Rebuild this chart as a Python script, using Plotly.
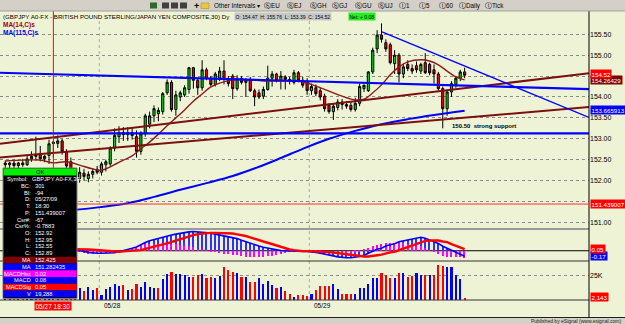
import plotly.graph_objects as go

# ---------------- data (30-min bars, bar 0 = 05/27 13:00) ----------------
bar_idx = list(range(106))
opens = [152.42,152.38,152.42,152.36,152.42,152.38,152.52,152.58,152.65,152.52,
         152.60,152.92,152.89,152.95,152.70,152.45,152.22,152.05,152.18,152.05,
         152.15,152.27,152.20,152.38,152.40,152.78,153.05,153.15,153.10,153.15,
         153.05,152.70,153.12,153.35,153.55,153.60,153.65,154.10,154.35,153.70,
         154.00,154.05,154.18,154.70,154.40,154.22,154.65,154.45,154.30,154.45,
         154.62,154.42,154.50,154.20,154.45,154.35,154.42,154.15,154.10,154.02,
         154.18,154.45,154.55,154.40,154.48,154.42,154.35,154.58,154.40,154.38,
         154.15,154.22,154.15,154.02,153.80,153.65,153.75,153.88,153.82,153.80,
         153.70,153.85,154.20,154.15,154.60,155.15,155.48,155.30,155.25,154.80,
         155.00,154.55,154.78,154.68,154.75,154.62,154.82,154.78,154.65,154.55,
         154.20,153.72,154.12,154.30,154.45,154.60]
highs = [152.48,152.45,152.50,152.45,152.52,152.60,152.70,153.05,152.83,152.62,
         152.98,152.95,153.08,153.00,152.75,152.55,152.30,152.32,152.28,152.22,
         152.30,152.35,152.45,152.50,152.82,153.25,153.30,153.28,153.28,153.25,
         153.20,153.18,153.60,153.65,153.80,153.75,154.12,154.42,154.40,154.15,
         154.15,154.28,154.72,154.72,154.45,154.88,154.70,154.50,154.60,154.72,
         154.88,154.50,154.55,154.52,154.50,154.45,154.48,154.20,154.18,154.25,
         154.75,154.62,154.58,154.62,154.52,154.48,154.65,154.62,154.48,154.45,
         154.32,154.30,154.22,154.08,153.85,153.85,153.95,153.95,153.90,153.88,
         153.98,154.32,154.30,154.62,155.18,155.60,155.76,155.38,155.30,155.12,
         155.05,154.80,154.88,154.78,154.85,154.82,155.05,154.82,154.78,154.60,
         154.25,154.18,154.38,154.50,154.65,154.70]
lows = [152.30,152.30,152.30,152.28,152.33,152.35,152.45,152.48,152.46,152.44,
        152.40,152.55,152.78,152.62,152.30,152.15,151.98,151.95,152.00,151.96,
        152.05,152.15,152.12,152.22,152.35,152.70,152.90,152.95,152.95,152.98,
        152.55,152.62,153.05,153.25,153.40,153.42,153.58,154.05,153.65,153.55,
        153.90,154.00,154.08,154.20,154.05,154.15,154.40,154.25,154.25,154.38,
        154.30,154.25,153.95,154.15,154.30,154.00,154.12,153.78,153.95,153.95,
        154.15,154.25,154.35,154.18,154.18,154.30,154.30,154.35,154.22,154.05,
        154.05,154.02,153.92,153.65,153.60,153.45,153.68,153.70,153.72,153.65,
        153.65,153.78,154.12,154.12,154.55,155.05,155.30,155.08,154.78,154.55,
        154.35,154.45,154.62,154.55,154.58,154.55,154.55,154.52,154.32,154.15,
        153.25,153.55,154.00,154.22,154.38,154.45]
closes = [152.38,152.42,152.36,152.42,152.38,152.52,152.58,152.62,152.52,152.58,
          152.88,152.89,152.95,152.70,152.35,152.22,152.05,152.20,152.10,152.15,
          152.22,152.20,152.40,152.45,152.78,153.08,153.15,153.10,153.15,153.08,
          152.70,153.12,153.55,153.55,153.72,153.68,154.08,154.35,153.70,154.05,
          154.10,154.22,154.70,154.40,154.22,154.65,154.45,154.30,154.55,154.62,
          154.42,154.32,154.20,154.45,154.35,154.40,154.15,154.00,154.00,154.18,
          154.45,154.55,154.40,154.50,154.42,154.38,154.58,154.40,154.28,154.15,
          154.25,154.08,154.00,153.72,153.65,153.78,153.88,153.82,153.78,153.70,
          153.85,154.25,154.28,154.60,155.12,155.48,155.38,155.15,154.82,155.00,
          154.55,154.72,154.68,154.62,154.65,154.78,154.58,154.58,154.55,154.20,
          153.72,154.12,154.32,154.45,154.60,154.52]
volume_k = [14,12,10,11,13,15,16,22,18,14,
            20,19.288,17,15,22,20,16,12,9,14,
            10,13,5,11,14,17,15,16,10,11,
            17,14,19,14,13,12.5,22,27,29,27,
            27,26,24,24,26,27,23,24,23,25,
            34,31,29,28,24,24,19,19,23,17,
            20,16,13,14,9,6,3.5,5,5,4,
            6,10,15,15,15,17,11,6,6,6,
            6,13,12,17,23,23,28,26,23,23,
            28,28,24,25,28,26,26,26,26,36,
            35,34,34,26,22,2.143]
macd = [0.15,0.14,0.13,0.12,0.11,0.10,0.10,0.10,0.09,0.09,
        0.09,0.08,0.09,0.08,0.08,0.06,0.04,0.02,-0.02,-0.05,
        -0.07,-0.08,-0.08,-0.08,-0.08,-0.06,-0.03,0.00,0.03,0.08,
        0.12,0.20,0.26,0.31,0.35,0.39,0.43,0.46,0.49,0.52,
        0.55,0.57,0.59,0.60,0.59,0.58,0.57,0.55,0.52,0.49,
        0.47,0.45,0.42,0.38,0.33,0.28,0.24,0.19,0.15,0.11,
        0.08,0.05,0.03,0.01,0.00,-0.01,-0.02,-0.02,-0.02,-0.02,
        -0.03,-0.05,-0.08,-0.10,-0.13,-0.16,-0.19,-0.21,-0.22,-0.22,
        -0.21,-0.18,-0.14,-0.08,-0.02,0.05,0.08,0.15,0.19,0.22,
        0.28,0.31,0.34,0.38,0.41,0.42,0.39,0.34,0.28,0.23,
        0.14,0.08,0.00,-0.05,-0.11,-0.17]
macd_sig = [0.12,0.12,0.12,0.11,0.11,0.10,0.09,0.08,0.07,0.06,
            0.06,0.05,0.05,0.06,0.06,0.06,0.06,0.06,0.05,0.04,
            0.03,0.02,0.00,-0.01,-0.02,-0.03,-0.03,-0.02,-0.01,0.00,
            0.01,0.02,0.06,0.10,0.13,0.17,0.20,0.23,0.28,0.32,
            0.36,0.40,0.45,0.49,0.52,0.54,0.56,0.56,0.56,0.56,
            0.56,0.55,0.54,0.51,0.49,0.46,0.42,0.37,0.33,0.29,
            0.25,0.21,0.16,0.11,0.07,0.04,0.02,0.00,-0.01,-0.01,
            -0.01,-0.02,-0.02,-0.03,-0.04,-0.05,-0.07,-0.09,-0.11,-0.13,
            -0.15,-0.17,-0.18,-0.18,-0.17,-0.14,-0.12,-0.08,-0.05,-0.03,
            0.02,0.07,0.12,0.17,0.23,0.28,0.31,0.32,0.33,0.32,
            0.29,0.27,0.21,0.16,0.10,0.05]
macd_hist = [0.03,0.02,0.01,0.01,0.00,0.00,0.01,0.02,0.02,0.03,
             0.03,0.02,0.04,0.02,0.02,0.00,-0.02,-0.04,-0.07,-0.09,
             -0.10,-0.10,-0.08,-0.07,-0.06,-0.03,0.00,0.02,0.04,0.08,
             0.11,0.18,0.20,0.21,0.22,0.22,0.23,0.23,0.21,0.20,
             0.19,0.17,0.14,0.11,0.07,0.04,0.01,-0.01,-0.04,-0.07,
             -0.09,-0.10,-0.12,-0.13,-0.16,-0.18,-0.18,-0.18,-0.18,-0.18,
             -0.17,-0.16,-0.13,-0.10,-0.07,-0.05,-0.04,-0.02,-0.01,-0.01,
             -0.02,-0.03,-0.06,-0.07,-0.09,-0.11,-0.12,-0.12,-0.11,-0.09,
             -0.06,-0.01,0.04,0.10,0.15,0.19,0.20,0.23,0.24,0.25,
             0.26,0.24,0.22,0.21,0.18,0.14,0.08,0.02,-0.05,-0.09,
             -0.15,-0.19,-0.21,-0.21,-0.21,-0.22]
ma14_bars = [0,4,8,11,14,17,20,22,24,27,29,31,33,35,37,39,41,43,45,47,49,52,56,60,
             64,68,71,74,77,80,82,84,86,88,90,92,95,97,99,101,103,105]
ma14_vals = [152.47,152.49,152.49,152.425,152.45,152.37,152.28,152.25,152.33,152.49,
             152.59,152.76,152.92,153.11,153.31,153.50,153.69,153.90,154.07,154.24,
             154.33,154.41,154.41,154.38,154.38,154.36,154.26,154.14,154.02,153.93,
             153.95,154.10,154.29,154.53,154.72,154.84,154.89,154.86,154.77,154.62,
             154.48,154.41]
ma115_bars = [0,11,16,22,28,34,40,46,52,58,63,68,74,80,86,92,98,105]
ma115_vals = [151.24,151.28,151.30,151.37,151.46,151.61,151.78,151.94,152.11,152.33,
              152.54,152.76,153.00,153.19,153.35,153.47,153.57,153.67]
# drawn trendlines: (bar start, price start, bar end, price end)
trend_brown = [(-1.2, 152.88, 133.43, 154.57), (-1.2, 152.55, 133.43, 153.76)]
trend_blue = [(-1.2, 154.58, 133.43, 154.19), (-1.2, 153.13, 133.43, 153.13),
              (86.12, 155.56, 133.43, 153.51)]
price_ticks = [151.0, 151.5, 152.0, 152.5, 153.0, 153.5, 154.0, 154.5, 155.0, 155.5]
hidden_ticks = [151.5, 154.5]
day_labels = [(22, "05/28"), (70, "05/29")]
cursor_bar, cursor_price = 11, 151.439007
info_rows = [("Symbol:", "GBPJPY A0-FX,30"), ("BC:", "301"), ("BI:", "-94"),
             ("D:", "05/27/09"), ("T:", "18:30"), ("P:", "151.439007"),
             ("Csr#:", "-67"), ("Csr%:", "-0.7883"), ("O:", "152.92"), ("H:", "152.95"),
             ("L:", "152.55"), ("C:", "152.89"), ("MA", "152.425"), ("MA", "151.282435"),
             ("MACDHist", "0.02"), ("MACD", "0.08"), ("MACDSig", "0.05"), ("V", "19,288")]
header_ohlc = ("154.47", "155.76", "153.39", "154.52")
header_net = "+ 0.08"
last_close, last_ma14, last_ma115 = 154.52, 154.26429, 153.665913
last_macd, last_sig, last_vol = -0.17, 0.05, 2143

# ---------------- layout geometry ----------------
W, H = 625, 324
PR = 589            # right edge of plot area (px)
PT, PB = 11, 300    # top / bottom of plot area (px)
X0, X1 = -1.2, 133.43
P0, P1 = 150.842, 156.057
M0, M1 = -0.32, 0.68
V1 = 40.6

def xp(px):
    return px / PR

def yp(py):
    return (PB - py) / (PB - PT)

BG = "#eff3d6"
GRAY = "#d4d0c8"
FONT = "Liberation Sans, Arial, sans-serif"
RED = "#ff0000"
DRED = "#8b1a1a"
BLUE = "#0000ff"

fig = go.Figure()

fig.add_trace(go.Candlestick(
    x=bar_idx, open=opens, high=highs, low=lows, close=closes,
    increasing=dict(line=dict(color="black", width=1), fillcolor="#00dd00"),
    decreasing=dict(line=dict(color="black", width=1), fillcolor="#ff0000"),
    whiskerwidth=0, showlegend=False, xaxis="x", yaxis="y"))
fig.add_trace(go.Scatter(x=ma115_bars, y=ma115_vals, mode="lines",
                         line=dict(color=BLUE, width=2, shape="spline"),
                         showlegend=False, xaxis="x", yaxis="y"))
fig.add_trace(go.Scatter(x=ma14_bars, y=ma14_vals, mode="lines",
                         line=dict(color=DRED, width=1.4, shape="spline"),
                         showlegend=False, xaxis="x", yaxis="y"))
for (a, b, c, d) in trend_brown:
    fig.add_trace(go.Scatter(x=[a, c], y=[b, d], mode="lines",
                             line=dict(color="#7a1010", width=2),
                             showlegend=False, xaxis="x", yaxis="y"))
for i, (a, b, c, d) in enumerate(trend_blue):
    fig.add_trace(go.Scatter(x=[a, c], y=[b, d], mode="lines",
                             line=dict(color=BLUE, width=1.3 if i == 2 else 2.2),
                             showlegend=False, xaxis="x", yaxis="y"))

# MACD pane
fig.add_trace(go.Bar(x=bar_idx, y=macd, width=0.3, marker=dict(color="#3030ff", line=dict(width=0)),
                     showlegend=False, xaxis="x2", yaxis="y2"))
fig.add_trace(go.Bar(x=bar_idx, y=macd_hist, width=0.3, marker=dict(color="#ff00ff", line=dict(width=0)),
                     showlegend=False, xaxis="x2", yaxis="y2"))
fig.add_trace(go.Scatter(x=bar_idx, y=macd, mode="lines", line=dict(color=BLUE, width=1.6),
                         showlegend=False, xaxis="x2", yaxis="y2"))
fig.add_trace(go.Scatter(x=bar_idx, y=macd_sig, mode="lines", line=dict(color=RED, width=2.4),
                         showlegend=False, xaxis="x2", yaxis="y2"))

# Volume pane
vcol = [BLUE if i == 0 or closes[i] >= closes[i - 1] else RED for i in range(len(closes))]
fig.add_trace(go.Bar(x=bar_idx, y=volume_k, width=0.5, marker=dict(color=vcol, line=dict(width=0)),
                     showlegend=False, xaxis="x3", yaxis="y3"))

ax_common = dict(range=[X0, X1], showgrid=False, zeroline=False, showticklabels=False,
                 showline=False, ticks="", fixedrange=True)
fig.update_layout(
    width=W, height=H, margin=dict(l=0, r=W - PR, t=PT, b=H - PB),
    paper_bgcolor=BG, plot_bgcolor=BG, barmode="overlay", bargap=0,
    font=dict(family=FONT, size=7, color="black"), showlegend=False,
    xaxis=dict(domain=[0, 1], anchor="y", rangeslider=dict(visible=False), **ax_common),
    xaxis2=dict(domain=[0, 1], anchor="y2", matches="x", **ax_common),
    xaxis3=dict(domain=[0, 1], anchor="y3", matches="x", **ax_common),
    yaxis=dict(domain=[yp(229), 1], range=[P0, P1], side="right",
               tickvals=price_ticks,
               ticktext=["" if t in hidden_ticks else f"{t:.2f}" for t in price_ticks],
               showgrid=True, gridcolor="#8a8a8a", griddash="dot", gridwidth=1,
               zeroline=False, showline=False, ticks="", tickfont=dict(size=7, color="black"),
               fixedrange=True),
    yaxis2=dict(domain=[yp(261), yp(229)], range=[M0, M1], side="right", showticklabels=False,
                showgrid=False, zeroline=False, showline=False, ticks="", fixedrange=True),
    yaxis3=dict(domain=[0, yp(261)], range=[0, V1], side="right", tickvals=[25], ticktext=["25K"],
                showgrid=True, gridcolor="#8a8a8a", griddash="dot", gridwidth=1,
                zeroline=False, showline=False, ticks="", tickfont=dict(size=7, color="black"),
                fixedrange=True),
)

shapes = []
def pline(x0, y0, x1, y1, color, width, dash="solid"):
    shapes.append(dict(type="line", xref="paper", yref="paper", x0=xp(x0), x1=xp(x1),
                       y0=yp(y0), y1=yp(y1), line=dict(color=color, width=width, dash=dash),
                       layer="above"))
def prect(x0, y0, x1, y1, fill, lc=None, lw=0, layer="above"):
    shapes.append(dict(type="rect", xref="paper", yref="paper", x0=xp(x0), x1=xp(x1),
                       y0=yp(y1), y1=yp(y0), fillcolor=fill,
                       line=dict(color=lc or fill, width=lw), layer=layer))

# day separators
for (b, _) in day_labels:
    shapes.append(dict(type="line", xref="x", yref="paper", x0=b - 0.5, x1=b - 0.5, y0=0, y1=yp(21),
                       line=dict(color="#a8a8a8", width=1, dash="dot"), layer="below"))
# MACD zero line
shapes.append(dict(type="line", xref="paper", yref="y2", x0=0, x1=1, y0=0, y1=0,
                   line=dict(color="black", width=1), layer="below"))
# pane separators & frame
pline(0, 229, PR, 229, "#9a9a9a", 2)
pline(0, 261, PR, 261, "#303030", 1)
pline(0, 300, PR, 300, "#303030", 1)
pline(0, 317.5, W, 317.5, "#202020", 1)
pline(PR, 11, PR, 317.5, "black", 1)
# cursor lines
shapes.append(dict(type="line", xref="x", yref="paper", x0=cursor_bar, x1=cursor_bar,
                   y0=yp(300), y1=1, line=dict(color=RED, width=1), layer="above"))
shapes.append(dict(type="line", xref="paper", yref="y", x0=0, x1=1, y0=cursor_price,
                   y1=cursor_price, line=dict(color="#ff3030", width=1), layer="above"))
# toolbar & bottom strip
prect(0, 0, W, 11, GRAY)
pline(0, 11, W, 11, "#a0a0a0", 1)
prect(0, 318, W, H, GRAY)

# info box
prect(3, 168, 77, 298.5, "black", "#808080", 1)
prect(3.5, 168.5, 76.5, 175.5, "#00ee00")
ROW0, ROWH = 179, 6.75
row_bg = {12: "#800000", 13: BLUE, 14: "#ff00ff", 15: BLUE, 16: RED, 17: BLUE}
for i, c in row_bg.items():
    yc = ROW0 + ROWH * i
    prect(3.5, yc - ROWH / 2, 76.5, yc + ROWH / 2, c)

# toolbar icons
for (x0, c) in [(150, "#2f6b2f"), (162, "#404040"), (171, "#404040"), (180, "#404040")]:
    prect(x0, 2.5, x0 + 7, 8.5, c)
prect(201, 3, 209, 8.5, "#e8c840", "#a08020", 0.5)
fig.update_layout(shapes=shapes)

ann = []
def text(px, py, s, size=7, color="black", anchor="left", bg=None, bold=False, family=FONT):
    d = dict(xref="paper", yref="paper", x=xp(px), y=yp(py), text=f"<b>{s}</b>" if bold else s,
             showarrow=False, xanchor=anchor, yanchor="middle",
             font=dict(size=size, color=color, family=family))
    if bg:
        d.update(bgcolor=bg, borderpad=0.5)
    else:
        d.update(borderpad=0)
    ann.append(d)

# toolbar text
text(193, 5.5, "+", 9, bold=True)
text(213, 5.5, "Other Intervals ▾", 6.3)
for (x0, s) in [(263, "EU"), (286, "EJ"), (309, "GH"), (331, "GJ"), (354, "GU"), (377, "UJ")]:
    text(x0, 5.5, "Ⓢ", 6.5, family="DejaVu Sans, " + FONT)
    text(x0 + 7, 5.5, s, 6.3)
for (x0, s) in [(398, "1"), (418, "5"), (438, "60"), (458, "Daily"), (484, "Tick")]:
    text(x0, 5.5, "Ⓘ", 6.5, family="DejaVu Sans, " + FONT)
    text(x0 + 7, 5.5, s, 6.3)

# title rows
text(1.5, 16, "(GBPJPY A0-FX - BRITISH POUND STERLING/JAPAN YEN COMPOSITE,30) Dy", 6.2)
text(234, 16, "O: %s  H: %s  L: %s  C: %s" % header_ohlc, 5, bg="#c8c8c8")
text(348, 16, "Net: " + header_net, 5, bg="#22ee22")
text(1.5, 25, "MA(14,C)s", 6.5, color="#a00000", bold=True)
text(1.5, 33, "MA(115,C)s", 6.5, color=BLUE, bold=True)

# support note
text(451, 126, "150.50  strong support", 6, bold=True)

# right axis value boxes (lower box first so the upper one sits on top)
VS = 6.2
text(590, 80, f"{last_ma14:.5f}", VS, "white", bg="#800000")
text(590, 74, f"{last_close:.2f}", VS, "white", bg=RED)
text(590, 109.5, f"{last_ma115:.6f}", VS, "white", bg=BLUE)
text(590, 204.5, f"{cursor_price:.6f}", VS, "white", bg=RED)
text(590, 255.5, f"{last_macd:.2f}", VS, "white", bg=BLUE)
text(590, 248.5, f"{last_sig:.2f}", VS, "white", bg=RED)
text(590, 297, f"{last_vol:,}", VS, "white", bg=RED)

# date labels
for (b, s) in day_labels:
    ann.append(dict(xref="x", yref="paper", x=b, y=yp(305.5), text=s, showarrow=False,
                    xanchor="left", yanchor="middle", font=dict(size=6.5, color="black", family=FONT)))
ann.append(dict(xref="x", yref="paper", x=cursor_bar, y=yp(305.5), text="05/27 18:30",
                showarrow=False, xanchor="center", yanchor="middle", bgcolor=RED, borderpad=0.5,
                font=dict(size=6.5, color="white", family=FONT)))

# info box text
IS = 5.7
text(40, 172, "OK", IS, anchor="center")
for i, (lab, val) in enumerate(info_rows):
    yc = ROW0 + ROWH * i
    if i == 0:
        text(29, yc, lab, IS, "white", anchor="right")
        text(31, yc, val, IS, "white")
    else:
        text(32, yc, lab, IS, "white", anchor="right")
        text(34, yc, val, IS, "white")

text(622, 320.5, "Published by eSignal (www.esignal.com)", 5, "#202020", anchor="right")

fig.update_layout(annotations=ann)
fig.write_html("out.html")
